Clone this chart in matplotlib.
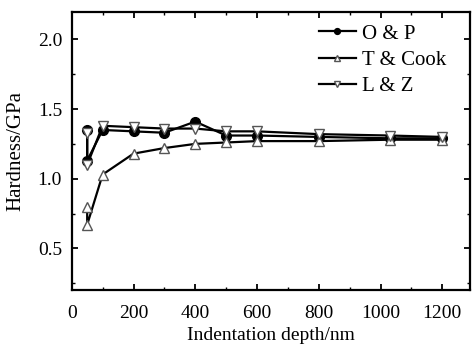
import matplotlib
matplotlib.use("Agg")
import matplotlib.pyplot as plt
from matplotlib.ticker import MultipleLocator

plt.rcParams['font.family'] = ['Liberation Serif', 'DejaVu Serif']

depth = [50, 50, 100, 200, 300, 400, 500, 600, 800, 1030, 1200]
op = [1.35, 1.13, 1.35, 1.34, 1.33, 1.41, 1.31, 1.31, 1.30, 1.29, 1.29]
tcook = [0.80, 0.67, 1.03, 1.18, 1.22, 1.25, 1.26, 1.27, 1.27, 1.28, 1.28]
lz = [1.33, 1.10, 1.38, 1.37, 1.36, 1.36, 1.34, 1.34, 1.32, 1.31, 1.30]

fig = plt.figure(figsize=(4.72, 3.5), dpi=100)
ax = fig.add_axes([0.152, 0.171, 0.844, 0.796])

kw = dict(color='black', lw=1.6, markersize=7, markeredgewidth=1.0)
ax.plot(depth, op, marker='o', markerfacecolor='black', label='O & P', **kw)
ax.plot(depth, tcook, marker='^', markerfacecolor='white', markeredgecolor='#555555', label='T & Cook', **kw)
ax.plot(depth, lz, marker='v', markerfacecolor='white', markeredgecolor='#555555', label='L & Z', **kw)

ax.set_xlim(0, 1290)
ax.set_ylim(0.2, 2.2)
ax.xaxis.set_major_locator(MultipleLocator(200))
ax.xaxis.set_minor_locator(MultipleLocator(100))
ax.yaxis.set_major_locator(MultipleLocator(0.5))
ax.yaxis.set_minor_locator(MultipleLocator(0.25))
ax.yaxis.set_major_formatter(plt.FuncFormatter(lambda v, p: f"{v:.1f}"))
ax.tick_params(which='both', direction='in', top=True, right=True, labelsize=14)
ax.tick_params(which='major', length=4, width=1.3, pad=7)
ax.tick_params(axis='x', which='major', pad=11)
ax.tick_params(which='minor', length=2, width=1.0)
for s in ax.spines.values():
    s.set_linewidth(1.6)

ax.set_xlabel('Indentation depth/nm', fontsize=14, labelpad=3)
ax.set_ylabel('Hardness/GPa', fontsize=15, labelpad=9)

leg = ax.legend(loc='upper left', frameon=False, fontsize=15, handlelength=1.8,
                handletextpad=0.3, labelspacing=0.32, markerscale=0.6,
                borderpad=0, borderaxespad=0, bbox_to_anchor=(0.62, 0.955))

fig.savefig('out.png', dpi=100)
